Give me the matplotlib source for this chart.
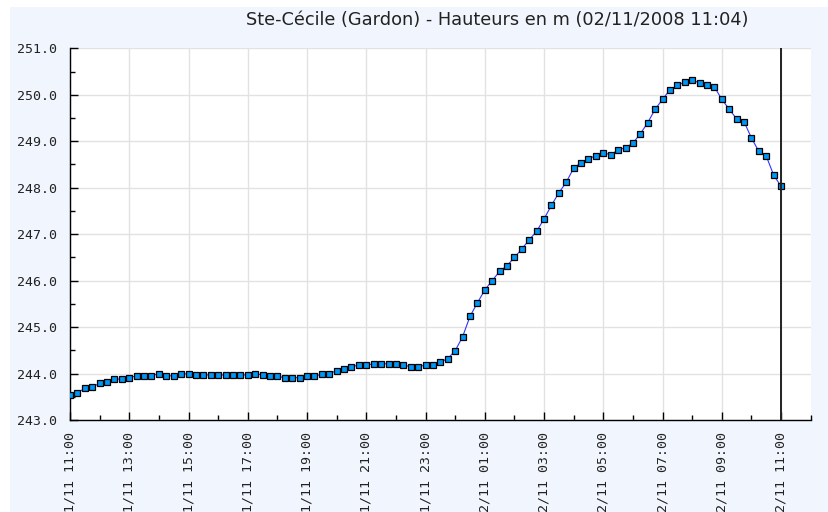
import matplotlib
matplotlib.use("Agg")
import matplotlib.pyplot as plt
import matplotlib.dates as mdates
from matplotlib.patches import Rectangle
import pandas as pd

# Hauteurs relevees toutes les 15 minutes, du 01/11 11:00 au 02/11 11:00
debut = "2008-11-01 11:00"
hauteurs = [
    243.53, 243.59, 243.68, 243.71, 243.79, 243.82, 243.88, 243.88,
    243.91, 243.95, 243.95, 243.95, 244.00, 243.95, 243.95, 243.98,
    244.00, 243.97, 243.97, 243.97, 243.97, 243.97, 243.97, 243.97,
    243.97, 244.00, 243.97, 243.94, 243.94, 243.91, 243.91, 243.91,
    243.95, 243.95, 243.98, 244.00, 244.06, 244.09, 244.15, 244.18,
    244.18, 244.21, 244.21, 244.21, 244.21, 244.18, 244.15, 244.15,
    244.18, 244.19, 244.25, 244.32, 244.49, 244.79, 245.23, 245.52,
    245.80, 246.00, 246.20, 246.32, 246.50, 246.68, 246.88, 247.06,
    247.33, 247.62, 247.89, 248.12, 248.42, 248.54, 248.62, 248.69,
    248.75, 248.71, 248.81, 248.86, 248.96, 249.16, 249.40, 249.69,
    249.90, 250.11, 250.20, 250.28, 250.31, 250.26, 250.20, 250.17,
    249.90, 249.69, 249.48, 249.42, 249.07, 248.78, 248.68, 248.27,
    248.03,
]
heures = pd.date_range(debut, periods=len(hauteurs), freq="15min")
maintenant = pd.Timestamp("2008-11-02 11:00")
titre = "Ste-Cécile (Gardon) - Hauteurs en m (02/11/2008 11:04)"

fond = "#f1f5fd"
fig = plt.figure(figsize=(8.29, 5.12), dpi=100, facecolor=fond)
# petite bordure blanche en haut et a gauche
fig.patches.append(Rectangle((0, 1 - 7 / 512), 1, 7 / 512, transform=fig.transFigure,
                             facecolor="white", edgecolor="none"))
fig.patches.append(Rectangle((0, 0), 10 / 829, 1, transform=fig.transFigure,
                             facecolor="white", edgecolor="none"))

ax = fig.add_axes([70 / 829, 1 - 420 / 512, 740.7 / 829, 371.7 / 512])
ax.set_facecolor("white")

ax.plot(heures, hauteurs, color="#3333ff", linewidth=0.8, marker="s",
        markersize=4.8, markerfacecolor="#0096f5", markeredgecolor="black",
        markeredgewidth=0.9, zorder=3)
ax.axvline(maintenant, color="#222222", linewidth=1.4, zorder=4)

ax.set_xlim(pd.Timestamp("2008-11-01 11:00"), pd.Timestamp("2008-11-02 12:00"))
ax.set_ylim(243, 251)

ax.xaxis.set_major_locator(mdates.HourLocator(byhour=range(1, 24, 2)))
ax.xaxis.set_minor_locator(mdates.HourLocator())
ax.xaxis.set_major_formatter(mdates.DateFormatter("%d/%m %H:%M"))
ax.yaxis.set_major_locator(plt.MultipleLocator(1))
ax.yaxis.set_minor_locator(plt.MultipleLocator(0.5))
ax.yaxis.set_major_formatter(plt.FormatStrFormatter("%.1f"))

ax.grid(True, which="major", color="#e2e2e2", linewidth=1.0, zorder=0)
for s in ["top", "right"]:
    ax.spines[s].set_visible(False)
for s in ["left", "bottom"]:
    ax.spines[s].set_linewidth(1.0)

ax.tick_params(which="major", direction="in", length=6, width=1.0)
ax.tick_params(which="minor", direction="in", length=3.5, width=1.0)
ax.tick_params(axis="y", pad=9)
ax.tick_params(axis="x", pad=9)
for lab in ax.get_xticklabels() + ax.get_yticklabels():
    lab.set_fontfamily("DejaVu Sans Mono")
    lab.set_fontsize(9.5)
    lab.set_color("#222222")
for lab in ax.get_xticklabels():
    lab.set_rotation(90)
    lab.set_ha("center")
    lab.set_va("top")

fig.text(497 / 829, 1 - 20 / 512, titre, ha="center", va="center",
         fontsize=12.8, color="#222222")

fig.savefig("out.png", dpi=100, facecolor=fond)
